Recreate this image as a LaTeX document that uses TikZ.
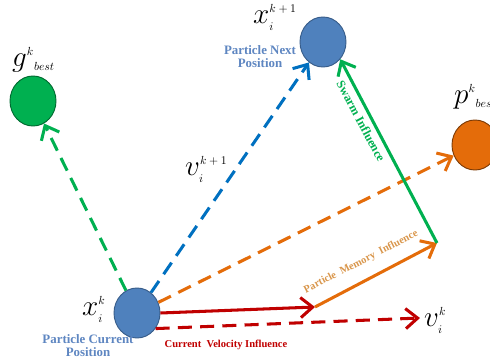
\documentclass[tikz,border=0pt]{standalone}
\usepackage{amsmath}
\usepackage{fontspec}
\setmainfont{Liberation Serif}
\usetikzlibrary{arrows.meta,shapes.geometric}
\definecolor{psoblue}{HTML}{4F81BD}
\definecolor{psoblueline}{HTML}{385D8A}
\definecolor{psodashblue}{HTML}{0070C0}
\definecolor{psotextblue}{HTML}{5E86C1}
\definecolor{psogreen}{HTML}{00B050}
\definecolor{psoorange}{HTML}{E46C0A}
\definecolor{psomemory}{HTML}{D9964B}
\definecolor{psored}{HTML}{C00000}
\newcommand{\idx}[1]{\text{\fontsize{10}{10}\selectfont$#1$}}

\begin{document}
\begin{tikzpicture}[x=0.03cm,y=-0.03cm,
    particle/.style={ellipse,draw,line width=0.8pt,
      minimum width=1.38cm,minimum height=1.5cm,inner sep=0pt},
    vec/.style={line width=2.6pt,-{Straight Barb[length=3.6mm,width=6mm]}},
    dashvec/.style={vec,dash pattern=on 12pt off 7pt},
    sym/.style={font=\fontsize{26}{26}\selectfont,inner sep=0pt,anchor=base west},
    caption/.style={font=\fontsize{11}{11}\selectfont\bfseries,
      text=psotextblue,align=center,inner sep=0pt},
    influence/.style={font=\fontsize{9}{10}\selectfont\bfseries,inner sep=0pt}]
  \useasboundingbox (0,0) rectangle (490,358);

  % particles
  \node[particle,fill=psoblue,draw=psoblueline] (cur) at (137,313) {};
  \node[particle,fill=psoblue,draw=psoblueline] (next) at (323,42) {};
  \node[particle,fill=psogreen,draw=psogreen!60!black] (gbest) at (33,101) {};
  \node[particle,fill=psoorange,draw=psoorange!55!black] (pbest) at (475,145) {};

  % free ends of the velocity parts
  \coordinate (vold) at (315,307);
  \coordinate (vmem) at (437,243);
  \coordinate (vk) at (420,318);

  \draw[dashvec,psogreen] (cur) -- (gbest);
  \draw[dashvec,psodashblue] (cur) -- (next);
  \draw[dashvec,psoorange] (cur) -- (pbest);
  \draw[dashvec,psored] (cur.-40) -- (vk);
  \draw[vec,psored] (cur.east) -- (vold);
  \draw[vec,psoorange] (vold) -- (vmem);
  \draw[vec,psogreen] (vmem) -- (next.-45);

  % symbols
  \node[sym] (xcur) at (82,315) {$x_{\idx{i}}^{\idx{k}}$};
  \node[sym] (xnext) at (253,23) {$x_{\idx{i}}^{\idx{k+1}}$};
  \node[sym] (vnext) at (185,175) {$v_{\idx{i}}^{\idx{k+1}}$};
  \node[sym] (vcur) at (424,326) {$v_{\idx{i}}^{\idx{k}}$};
  \node[sym] (gsym) at (12,66) {$g^{\idx{k}}{}_{\idx{best}}$};
  \node[sym] (psym) at (454,103) {$p^{\idx{k}}{}_{\idx{best}}$};

  % texts
  \node[caption] (capnext) at (260,57) {Particle Next\\Position};
  \node[caption] (capcur) at (88,346) {Particle Current\\Position};
  \node[influence,text=psored] (capvel) at (226,345)
    {Current\enspace Velocity Influence};
  \node[influence,text=psomemory,rotate=27] (capmem) at (361,262)
    {Particle\enspace Memory\enspace Influence};
  \node[influence,text=psogreen,rotate=-62,font=\fontsize{10.5}{11}\selectfont\bfseries]
    (capswarm) at (361,121) {Swarm Influence};
\end{tikzpicture}
\end{document}
